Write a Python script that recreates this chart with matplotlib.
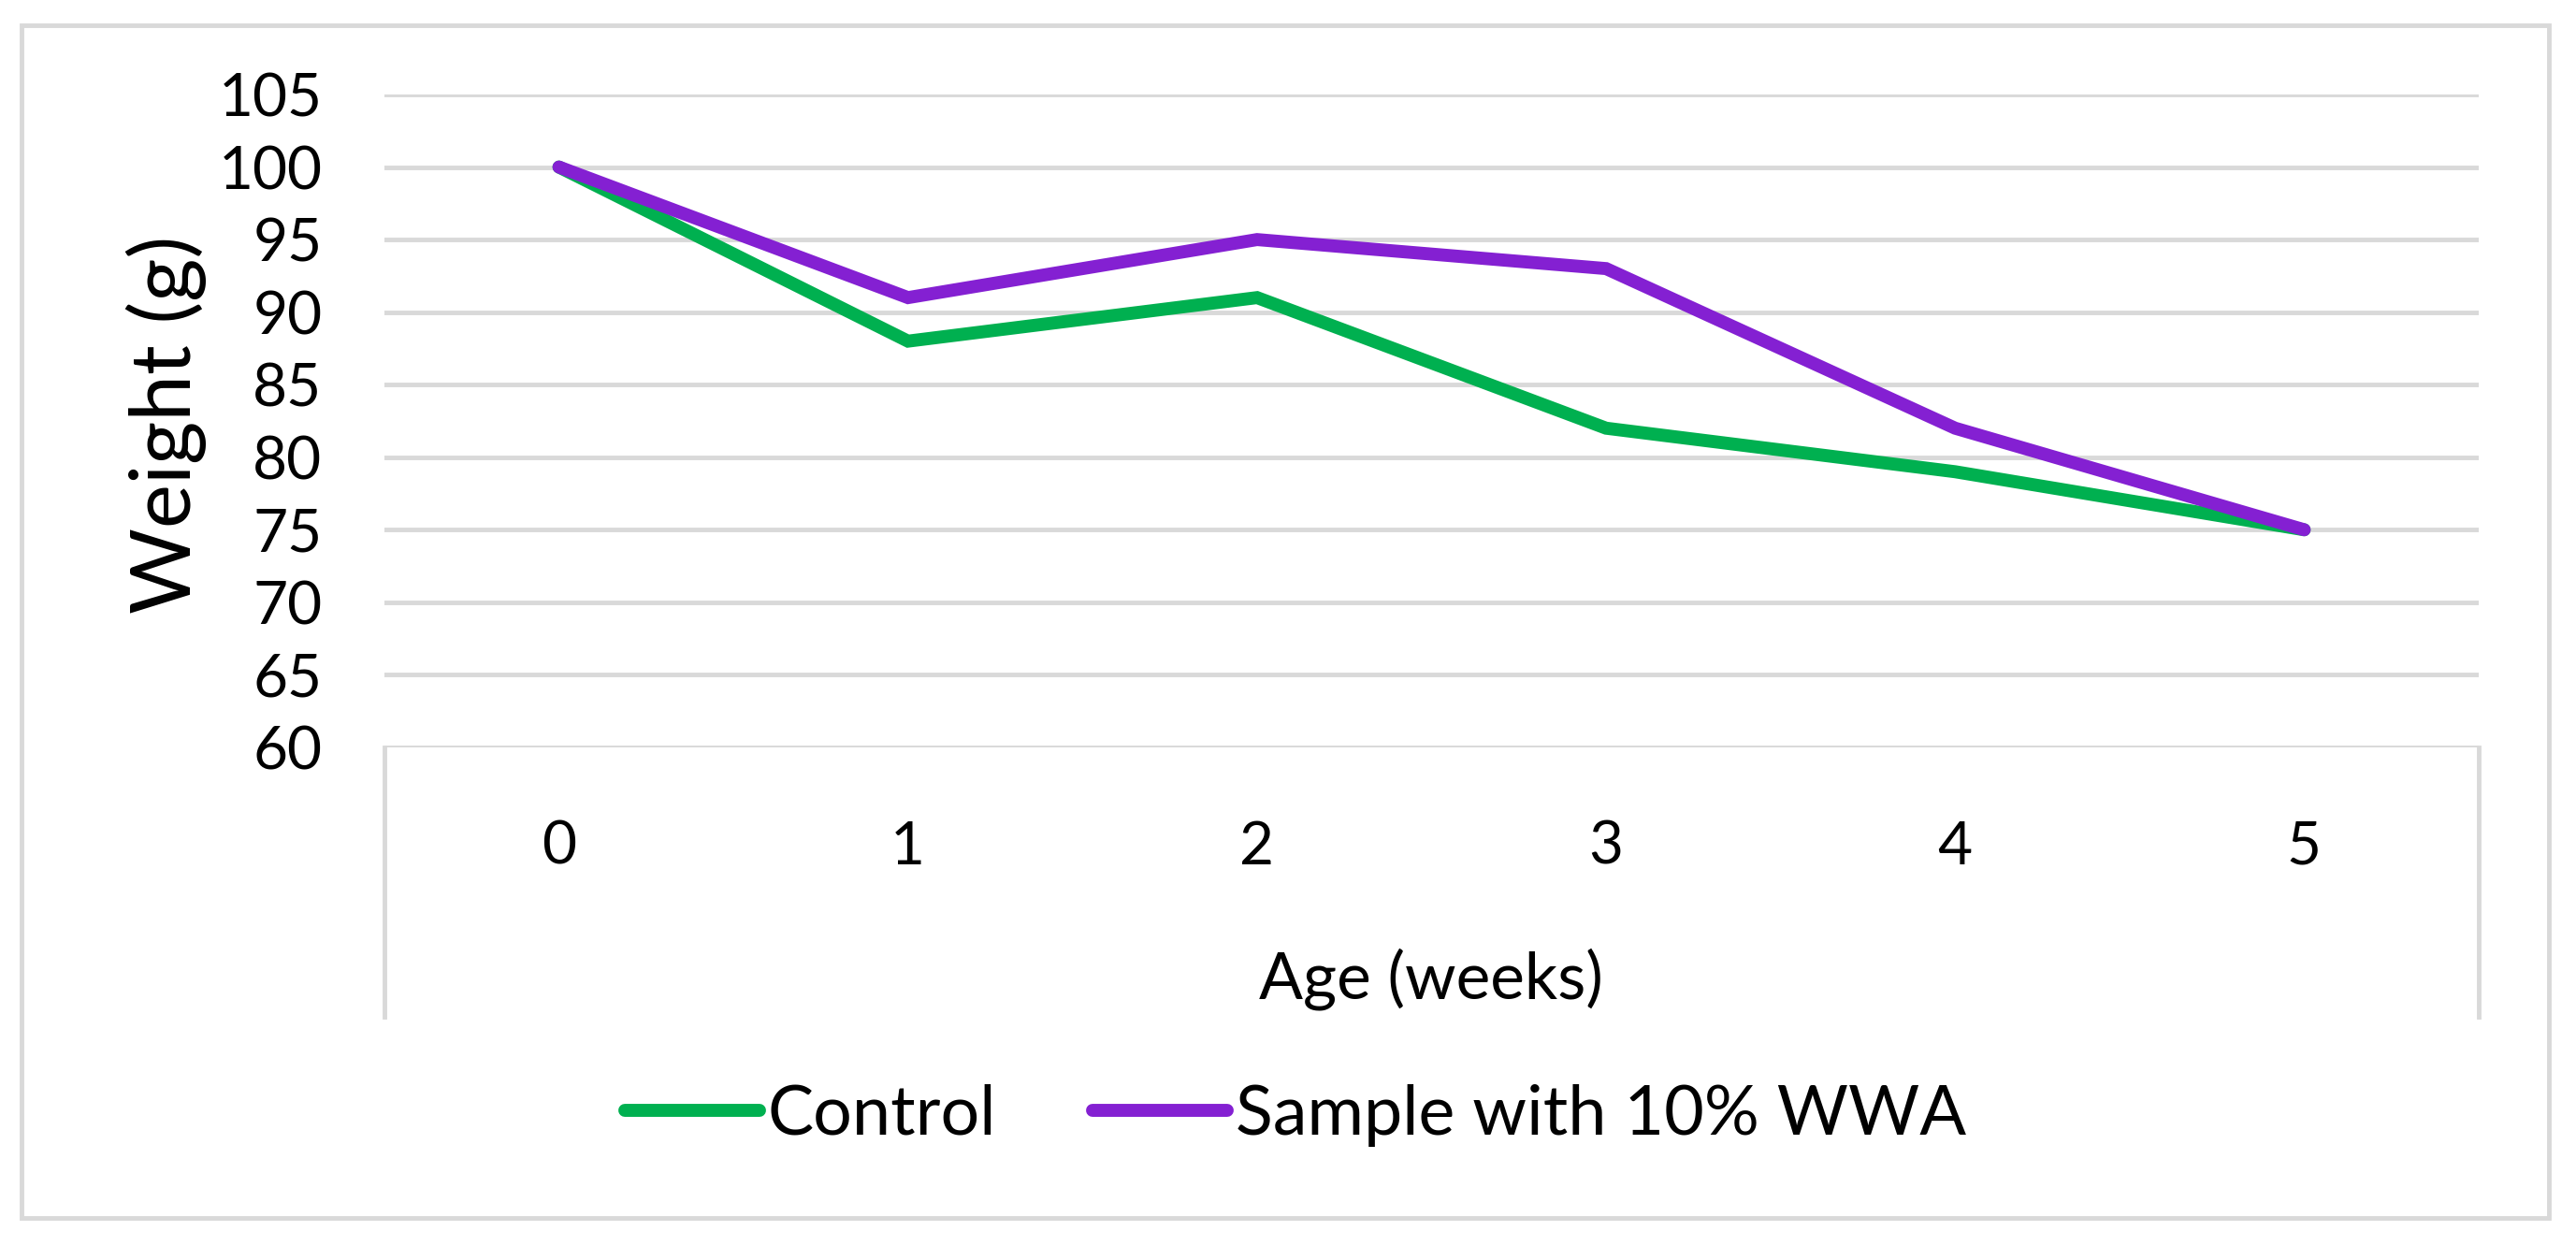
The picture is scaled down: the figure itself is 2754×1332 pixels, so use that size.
import matplotlib
matplotlib.use('Agg')
import matplotlib.pyplot as plt
from matplotlib.patches import Rectangle

plt.rcParams['font.family'] = ['Lato', 'DejaVu Sans']

# data
weeks = [0, 1, 2, 3, 4, 5]
control = [100, 88, 91, 82, 79, 75]
sample = [100, 91, 95, 93, 82, 75]
yticks = [60, 65, 70, 75, 80, 85, 90, 95, 100, 105]

W, H = 2754, 1332
fig = plt.figure(figsize=(W / 100, H / 100), dpi=100)

# plot area in pixels
left, right, top, bottom = 411, 2650, 101, 799
ax = fig.add_axes([left / W, 1 - bottom / H, (right - left) / W, (bottom - top) / H])

grid_col = '#D9D9D9'
ax.plot(weeks, control, color='#00B050', lw=10, solid_joinstyle='miter',
        solid_capstyle='round', label='Control', zorder=3)
ax.plot(weeks, sample, color='#8420D2', lw=10, solid_joinstyle='miter',
        solid_capstyle='round', label='Sample with 10% WWA', zorder=4)

ax.set_xlim(-0.5, 5.5)
ax.set_ylim(60, 105)
ax.set_yticks(yticks)
ax.set_xticks(weeks)
ax.yaxis.grid(True, color=grid_col, lw=3.5)
ax.set_axisbelow(True)
for s in ax.spines.values():
    s.set_visible(False)
ax.tick_params(axis='y', length=0, pad=48, labelsize=46, labelcolor='#000000')
ax.tick_params(axis='x', length=0, pad=56, labelsize=46, labelcolor='#000000')

# box lines under the plot area (category axis area)
drop = (1087 - bottom) / (bottom - top)
ax.plot([0, 0], [0, -drop], transform=ax.transAxes, color=grid_col, lw=3.5, clip_on=False)
ax.plot([1, 1], [0, -drop], transform=ax.transAxes, color=grid_col, lw=3.5, clip_on=False)

fig.text(1530 / W, 1 - 1047 / H, 'Age (weeks)', ha='center', va='center', fontsize=50)
fig.text(178 / W, 1 - 454 / H, 'Weight (g)', ha='center', va='center',
         rotation=90, fontsize=64)

fig.legend(loc='center', bbox_to_anchor=(1385 / W, 1 - 1192 / H), ncol=2,
           frameon=False, fontsize=53, handlelength=1.95, handletextpad=0.12,
           columnspacing=1.4)

# outer border
fig.patches.append(Rectangle((23 / W, 1 - 1302 / H), (2725 - 23) / W, (1302 - 27) / H,
                             transform=fig.transFigure, fill=False,
                             edgecolor=grid_col, lw=3.5))

fig.savefig('out.png', dpi=100, facecolor='white')
